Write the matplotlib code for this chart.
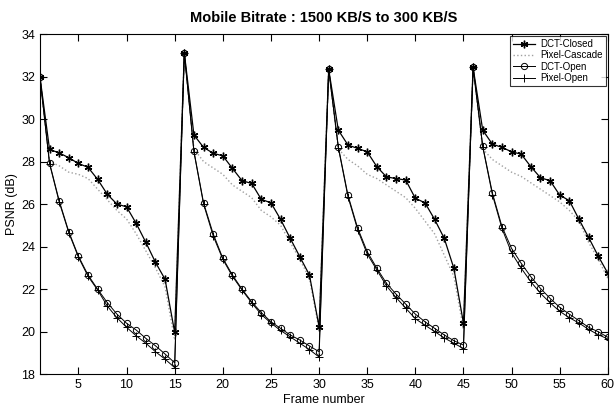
import numpy as np
import matplotlib
matplotlib.use("Agg")
import matplotlib.pyplot as plt

plt.rcParams["font.family"] = ["Liberation Sans", "DejaVu Sans"]

frames = np.arange(1, 61)

dct_closed = [32.0, 28.57, 28.41, 28.18, 27.91, 27.73, 27.16, 26.46, 26.0, 25.87, 25.09, 24.2, 23.26, 22.46, 19.96,
              33.12, 29.25, 28.67, 28.39, 28.27, 27.68, 27.1, 26.97, 26.22, 26.06, 25.28, 24.39, 23.52, 22.66, 20.23,
              32.34, 29.48, 28.78, 28.62, 28.46, 27.76, 27.28, 27.2, 27.13, 26.27, 26.06, 25.28, 24.39, 22.98, 20.39,
              32.43, 29.48, 28.82, 28.67, 28.46, 28.35, 27.76, 27.24, 27.1, 26.42, 26.16, 25.28, 24.43, 23.55, 22.74]

pixel_cascade = [32.0, 28.0, 27.8, 27.5, 27.4, 27.2, 26.7, 26.2, 25.7, 25.3, 24.6, 23.8, 23.0, 22.1, 19.6,
                 33.12, 28.6, 28.0, 27.7, 27.4, 26.9, 26.6, 26.3, 25.7, 25.4, 25.0, 24.2, 23.4, 22.5, 20.1,
                 32.34, 28.6, 28.1, 27.8, 27.4, 27.2, 26.9, 26.6, 26.3, 25.8, 25.2, 24.6, 23.6, 22.6, 20.1,
                 32.43, 28.6, 28.1, 27.8, 27.5, 27.3, 27.0, 26.7, 26.4, 26.1, 25.7, 25.2, 24.2, 23.4, 22.5]

dct_open = [32.0, 27.94, 26.16, 24.7, 23.55, 22.66, 21.99, 21.36, 20.82, 20.39, 20.07, 19.68, 19.33, 18.94, 18.53,
            33.12, 28.49, 26.06, 24.6, 23.45, 22.66, 21.99, 21.4, 20.89, 20.46, 20.15, 19.84, 19.6, 19.32, 19.05,
            32.34, 28.7, 26.42, 24.88, 23.76, 22.98, 22.27, 21.76, 21.29, 20.82, 20.46, 20.15, 19.84, 19.57, 19.36,
            32.43, 28.73, 26.53, 24.94, 23.91, 23.21, 22.58, 22.03, 21.56, 21.14, 20.82, 20.51, 20.2, 19.99, 19.73]

pixel_open = [32.0, 27.9, 26.1, 24.65, 23.5, 22.6, 21.95, 21.2, 20.65, 20.2, 19.8, 19.45, 19.05, 18.7, 18.3,
              33.12, 28.45, 26.0, 24.5, 23.4, 22.6, 21.95, 21.35, 20.8, 20.4, 20.05, 19.75, 19.45, 19.15, 18.8,
              32.34, 28.65, 26.35, 24.8, 23.65, 22.9, 22.15, 21.6, 21.1, 20.6, 20.3, 20.0, 19.7, 19.45, 19.2,
              32.43, 28.7, 26.45, 24.85, 23.7, 22.98, 22.34, 21.8, 21.35, 20.95, 20.65, 20.4, 20.1, 19.85, 19.65]

fig = plt.figure(figsize=(6.14, 4.11), dpi=100)
ax = fig.add_axes([0.065, 0.09, 0.925, 0.827])

asterisk = (6, 2, 0)
ax.plot(frames, pixel_cascade, color="#a0a0a0", linestyle=":", linewidth=1.0, label="Pixel-Cascade")
ax.plot(frames, pixel_open, color="black", linestyle="-", linewidth=0.7, marker="+",
        markersize=6, markeredgewidth=0.7, label="Pixel-Open")
ax.plot(frames, dct_open, color="black", linestyle="-", linewidth=0.7, marker="o",
        markersize=4.5, markerfacecolor="none", markeredgewidth=0.7, label="DCT-Open")
ax.plot(frames, dct_closed, color="black", linestyle="-", linewidth=0.9, marker=asterisk,
        markersize=5.5, markeredgewidth=1.0, label="DCT-Closed")

ax.set_xlim(1, 60)
ax.set_ylim(18, 34)
ax.set_xticks(np.arange(5, 61, 5))
ax.set_yticks(np.arange(18, 35, 2))
ax.tick_params(direction="in", top=True, right=True, labelsize=9, length=5, width=0.8)
for s in ax.spines.values():
    s.set_linewidth(0.8)

ax.set_title("Mobile Bitrate : 1500 KB/S to 300 KB/S", fontsize=10.5, fontweight="bold", pad=9)
ax.set_xlabel("Frame number", fontsize=9, labelpad=2)
ax.set_ylabel("PSNR (dB)", fontsize=9, labelpad=2)

handles, labels = ax.get_legend_handles_labels()
order = [3, 0, 2, 1]
leg = ax.legend([handles[i] for i in order], [labels[i] for i in order], loc="upper right",
                fontsize=7, frameon=True, fancybox=False, edgecolor="black", borderaxespad=0.2,
                borderpad=0.3, handlelength=2.2, labelspacing=0.15, handletextpad=0.6)
leg.get_frame().set_linewidth(0.8)

fig.savefig("out.png", dpi=100)
